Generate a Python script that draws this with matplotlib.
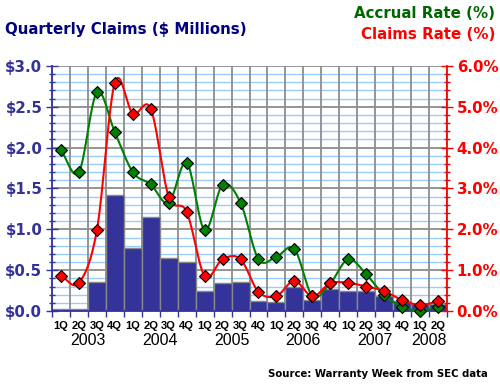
import numpy as np
import matplotlib.pyplot as plt
from matplotlib.ticker import MultipleLocator, FuncFormatter

# quarterly data, 1Q 2003 .. 2Q 2008
quarters = ['1Q', '2Q', '3Q', '4Q'] * 5 + ['1Q', '2Q']
years = ['2003', '2004', '2005', '2006', '2007', '2008']
claims = [0.03, 0.03, 0.36, 1.42, 0.77, 1.15, 0.645, 0.60, 0.245, 0.34, 0.35,
          0.12, 0.11, 0.29, 0.135, 0.27, 0.25, 0.24, 0.19, 0.125, 0.085, 0.09]
accrual_rate = [3.93, 3.40, 5.35, 4.38, 3.40, 3.10, 2.65, 3.63, 1.98, 3.09, 2.65,
                1.27, 1.33, 1.52, 0.37, 0.68, 1.27, 0.90, 0.39, 0.11, 0.01, 0.11]
claims_rate = [0.86, 0.69, 1.98, 5.59, 4.83, 4.95, 2.80, 2.43, 0.86, 1.27, 1.27,
               0.47, 0.37, 0.74, 0.36, 0.68, 0.69, 0.60, 0.49, 0.27, 0.15, 0.24]

NAVY = '#333399'


def smooth(x, y, n=20):
    # catmull-rom curve through the points (just for drawing)
    x = np.asarray(x, float)
    y = np.asarray(y, float)
    px = np.concatenate([[2 * x[0] - x[1]], x, [2 * x[-1] - x[-2]]])
    py = np.concatenate([[2 * y[0] - y[1]], y, [2 * y[-1] - y[-2]]])
    t = np.linspace(0, 1, n)
    xs, ys = [], []
    for i in range(1, len(px) - 2):
        for p, out in ((px, xs), (py, ys)):
            p0, p1, p2, p3 = p[i - 1], p[i], p[i + 1], p[i + 2]
            out.extend(0.5 * (2 * p1 + (-p0 + p2) * t
                              + (2 * p0 - 5 * p1 + 4 * p2 - p3) * t ** 2
                              + (-p0 + 3 * p1 - 3 * p2 + p3) * t ** 3))
    return np.array(xs), np.array(ys)


plt.rcParams['font.family'] = ['DejaVu Sans']
plt.rcParams['font.weight'] = 'bold'

fig = plt.figure(figsize=(5, 3.85), dpi=100)
ax = fig.add_axes([0.104, 0.192, 0.79, 0.637])
x = np.arange(len(claims))

ax.set_axisbelow(True)
ax.bar(x, claims, width=1.0, color=NAVY, edgecolor='#888888', linewidth=1, zorder=2)
ax.set_xlim(-0.5, len(claims) - 0.5)
ax.set_ylim(0, 3.0)

# grid: light blue every 0.1, grey every 0.5, grey between quarters
ax.yaxis.set_major_locator(MultipleLocator(0.5))
ax.yaxis.set_minor_locator(MultipleLocator(0.1))
ax.grid(axis='y', which='minor', color='#99ccff', linewidth=1, zorder=0)
ax.grid(axis='y', which='major', color='#8c8c8c', linewidth=1.3, zorder=1)
for b in np.arange(-0.5, len(claims), 1.0):
    ax.axvline(b, color='#8c8c8c', linewidth=1.3, zorder=1)

ax.yaxis.set_major_formatter(FuncFormatter(lambda v, p: f'${v:.1f}'))
ax.tick_params(axis='y', which='major', direction='inout', length=8, width=1,
               color=NAVY, labelcolor=NAVY, labelsize=10.8, pad=3)
ax.tick_params(axis='y', which='minor', direction='inout', length=5, width=1, color=NAVY)

ax.set_xticks(np.arange(-0.5, len(claims), 1.0))
ax.set_xticklabels([])
ax.tick_params(axis='x', direction='out', length=4, width=1, color=NAVY)
for i, q in enumerate(quarters):
    ax.text(i, -0.059, q, transform=ax.get_xaxis_transform(), ha='center', va='center',
            fontsize=8.0, color='black', family='Liberation Sans')
year_pos = [1.5, 5.5, 9.5, 13.5, 17.5, 20.5]
for xp, yr in zip(year_pos, years):
    ax.text(xp, -0.12, yr, transform=ax.get_xaxis_transform(), ha='center', va='center',
            fontsize=11.5, color='black', fontweight='normal', family='Liberation Sans')

for s in ['top', 'right']:
    ax.spines[s].set_visible(False)
ax.spines['left'].set_color(NAVY)
ax.spines['bottom'].set_color(NAVY)
ax.spines['left'].set_linewidth(1.3)
ax.spines['bottom'].set_linewidth(1.3)

ax2 = ax.twinx()
ax2.set_ylim(0, 6.0)
ax2.yaxis.set_major_locator(MultipleLocator(1.0))
ax2.yaxis.set_minor_locator(MultipleLocator(0.2))
ax2.yaxis.set_major_formatter(FuncFormatter(lambda v, p: f'{v:.1f}%'))
ax2.tick_params(axis='y', which='major', direction='inout', length=8, width=1,
                color='red', labelcolor='red', labelsize=10.8, pad=3)
ax2.tick_params(axis='y', which='minor', direction='inout', length=5, width=1, color='red')
for s in ['top', 'left', 'bottom']:
    ax2.spines[s].set_visible(False)
ax2.spines['right'].set_color('red')
ax2.spines['right'].set_linewidth(1.3)

for vals, col in ((accrual_rate, '#008000'), (claims_rate, '#ff0000')):
    sx, sy = smooth(x, vals)
    ax2.plot(sx, sy, color=col, linewidth=1.5, zorder=3, clip_on=False)
    ax2.plot(x, vals, linestyle='none', marker='D', markersize=6.5, markerfacecolor=col,
             markeredgecolor='black', markeredgewidth=0.8, zorder=4, clip_on=False)

fig.text(0.01, 0.924, 'Quarterly Claims ($ Millions)', color='#000080', fontsize=10.8,
         ha='left', va='center')
fig.text(0.99, 0.965, 'Accrual Rate (%)', color='#006600', fontsize=10.8, ha='right', va='center')
fig.text(0.99, 0.91, 'Claims Rate (%)', color='#ff0000', fontsize=10.8, ha='right', va='center')
fig.text(0.975, 0.028, 'Source: Warranty Week from SEC data', color='black', fontsize=7.3,
         ha='right', va='center')

fig.savefig('out.png', dpi=100)
